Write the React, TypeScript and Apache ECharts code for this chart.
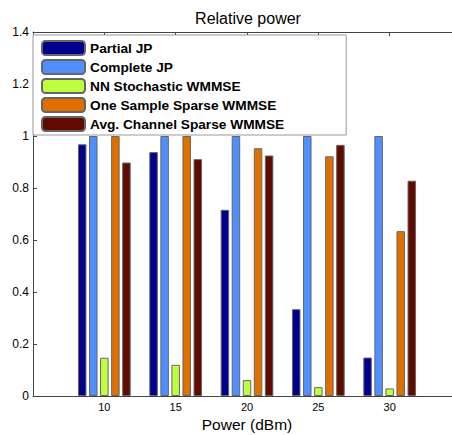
import React, { useEffect, useRef } from "react";
import * as echarts from "echarts";

const powers = [10, 15, 20, 25, 30];
const seriesNames = [
  "Partial JP",
  "Complete JP",
  "NN Stochastic WMMSE",
  "One Sample Sparse WMMSE",
  "Avg. Channel Sparse WMMSE",
];
const partialJP = [0.968, 0.938, 0.716, 0.334, 0.148];
const completeJP = [1.0, 1.0, 1.0, 1.0, 1.0];
const nnStochastic = [0.147, 0.12, 0.061, 0.034, 0.029];
const oneSample = [1.0, 1.0, 0.953, 0.922, 0.634];
const avgChannel = [0.898, 0.911, 0.925, 0.966, 0.828];
const colors = ["#00008F", "#508FFF", "#BFFF40", "#DF7000", "#600A00"];
const yTicks = [0, 0.2, 0.4, 0.6, 0.8, 1, 1.2, 1.4];

const FONT = "Liberation Sans, Arial, Helvetica, sans-serif";

export default function App() {
  const ref = useRef<HTMLDivElement>(null);
  useEffect(() => {
    if (!ref.current) return;
    const chart = echarts.init(ref.current, null, { renderer: "svg" });
    const allValues = [partialJP, completeJP, nnStochastic, oneSample, avgChannel];
    const axisLineColor = "#444";
    chart.setOption({
      animation: false,
      backgroundColor: "#fff",
      title: {
        text: "Relative power",
        left: 243,
        top: 5,
        textAlign: "center",
        textStyle: { fontFamily: FONT, fontSize: 16, fontWeight: "normal", color: "#000" },
      },
      legend: {
        orient: "vertical",
        left: 33,
        top: 35,
        itemWidth: 43,
        itemHeight: 14,
        itemGap: 3,
        padding: [5, 62, 3, 8],
        backgroundColor: "#fff",
        borderColor: "#999",
        borderWidth: 1,
        textStyle: {
          fontFamily: FONT,
          fontSize: 13.7,
          lineHeight: 14,
          fontWeight: "bold",
          color: "#000",
        },
        data: seriesNames,
        z: 10,
      },
      grid: { left: 33, top: 32, bottom: 39, right: -9, outerBoundsMode: "none" },
      xAxis: [
        {
          type: "value",
          min: 5,
          max: 35,
          interval: 5,
          name: "Power (dBm)",
          nameLocation: "middle",
          nameGap: 15,
          nameTextStyle: { fontFamily: FONT, fontSize: 15.5, color: "#000" },
          axisLine: { show: true, lineStyle: { color: axisLineColor, width: 1 } },
          axisTick: { show: true, inside: true, length: 4, lineStyle: { color: axisLineColor } },
          axisLabel: {
            fontFamily: FONT,
            fontSize: 11,
            color: "#000",
            margin: 5,
            formatter: (v: number) => (powers.indexOf(v) >= 0 ? String(v) : ""),
          },
          splitLine: { show: false },
        },
        {
          type: "value",
          position: "top",
          min: 5,
          max: 35,
          interval: 5,
          axisLine: { show: true, lineStyle: { color: axisLineColor, width: 1 } },
          axisTick: { show: true, inside: true, length: 4, lineStyle: { color: axisLineColor } },
          axisLabel: { show: false },
          splitLine: { show: false },
        },
      ],
      yAxis: {
        type: "value",
        min: 0,
        max: 1.4,
        interval: 0.2,
        axisLine: { show: true, lineStyle: { color: axisLineColor, width: 1 } },
        axisTick: { show: true, inside: true, length: 4, lineStyle: { color: axisLineColor } },
        axisLabel: {
          fontFamily: FONT,
          fontSize: 12,
          color: "#000",
          margin: 4,
          formatter: (v: number) => {
            const t = yTicks.find((y) => Math.abs(y - v) < 1e-6);
            return t === undefined ? "" : String(t);
          },
        },
        splitLine: { show: false },
      },
      series: seriesNames.map((name, i) => ({
        name,
        type: "bar",
        xAxisIndex: 0,
        barWidth: 8.5,
        barGap: "30%",
        itemStyle: { color: colors[i], borderColor: "#666", borderWidth: 1 },
        data: powers.map((p, j) => [p, allValues[i][j]]),
      })),
    });
    return () => chart.dispose();
  }, []);
  return (
    <div
      ref={ref}
      style={{ position: "absolute", left: 0, top: 0, width: 452, height: 435 }}
    />
  );
}
